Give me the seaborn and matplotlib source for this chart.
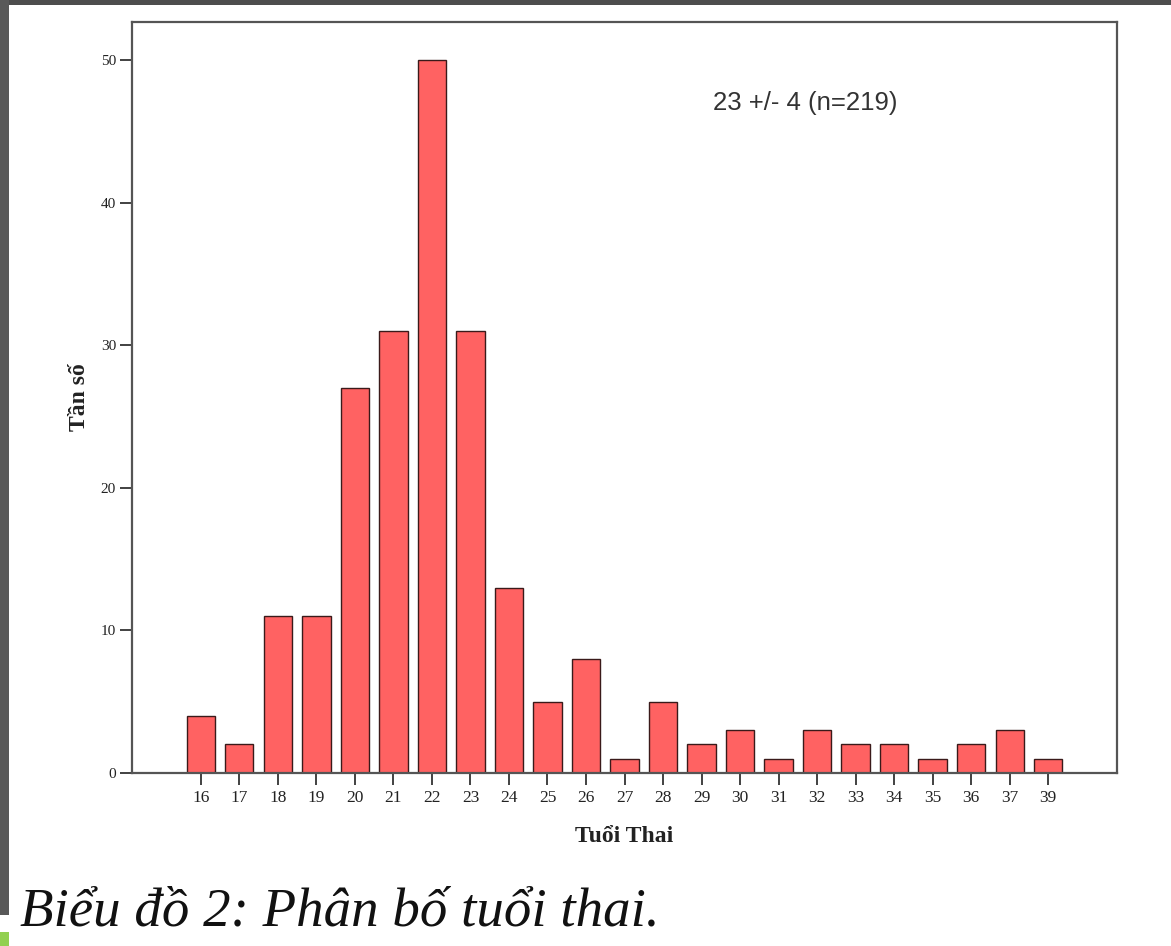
import matplotlib
matplotlib.use("Agg")
import matplotlib.pyplot as plt
import matplotlib.patches as mpatches
import seaborn as sns
import pandas as pd

ages = ["16", "17", "18", "19", "20", "21", "22", "23", "24", "25", "26", "27",
        "28", "29", "30", "31", "32", "33", "34", "35", "36", "37", "39"]
counts = [4, 2, 11, 11, 27, 31, 50, 31, 13, 5, 8, 1, 5, 2, 3, 1, 3, 2, 2, 1, 2, 3, 1]
y_ticks = [0, 10, 20, 30, 40, 50]
annotation = "23 +/- 4 (n=219)"
x_label = "Tuổi Thai"
y_label = "Tần số"
caption = "Biểu đồ 2: Phân bố tuổi thai."

df = pd.DataFrame({"age": ages, "count": counts})

sns.set_theme(style="white")
plt.rcParams["font.family"] = ["Liberation Serif", "DejaVu Serif"]

W, H = 1171, 946
fig = plt.figure(figsize=(W / 100, H / 100), dpi=100)
fig.patch.set_facecolor("white")

# frame decorations (dark border at top/left, green corner)
fig.add_artist(mpatches.Rectangle((0, 1 - 5 / H), 1, 5 / H, transform=fig.transFigure,
                                  facecolor="#4d4d4d", edgecolor="none"))
fig.add_artist(mpatches.Rectangle((0, 1 - 915 / H), 9 / W, 915 / H, transform=fig.transFigure,
                                  facecolor="#595959", edgecolor="none"))
fig.add_artist(mpatches.Rectangle((0, 0), 9 / W, 14 / H, transform=fig.transFigure,
                                  facecolor="#92d050", edgecolor="none"))

left, right, top, bottom = 132, 1117, 22, 773
ax = fig.add_axes([left / W, 1 - bottom / H, (right - left) / W, (bottom - top) / H])

sns.barplot(data=df, x="age", y="count", ax=ax, color="#ff6262", saturation=1,
            width=0.73, edgecolor="#3a1a1a", linewidth=1.0)

ax.set_xlim(-1.79, 23.79)
ax.set_ylim(0, 52.66)
ax.set_yticks(y_ticks)
ax.set_yticklabels([str(v) for v in y_ticks])
ax.tick_params(axis="both", direction="out", length=8.5, width=1.3, color="#333333",
               labelcolor="#222222", left=True, bottom=True, pad=3)
ax.tick_params(axis="x", labelsize=12.5, pad=4)
ax.tick_params(axis="y", labelsize=11)

for s in ax.spines.values():
    s.set_visible(True)
    s.set_color("#555555")
    s.set_linewidth(1.6)

ax.set_xlabel(x_label, fontsize=17, fontweight="bold", color="#222222", labelpad=14)
ax.set_ylabel(y_label, fontsize=17, fontweight="bold", color="#222222", labelpad=8)

ax.text(0.59, 0.892, annotation, transform=ax.transAxes, fontsize=18.5,
        family=["Liberation Sans", "DejaVu Sans"], color="#333333", ha="left", va="center")

fig.text(20 / W, 1 - 912 / H, caption, fontsize=39.5, style="italic",
         family=["Liberation Serif", "DejaVu Serif"], color="#111111", ha="left", va="center")

fig.savefig("out.png", dpi=100, facecolor="white")
